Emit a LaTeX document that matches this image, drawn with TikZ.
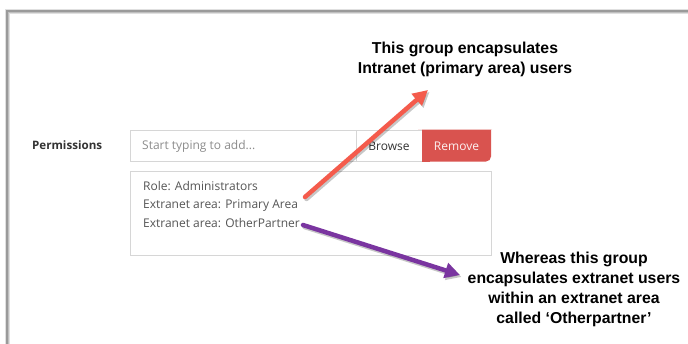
\documentclass[tikz,border=0pt]{standalone}
\usepackage{fontspec}
\setmainfont{Open Sans}
\newfontfamily\annotfont{Liberation Sans}
\usetikzlibrary{arrows.meta}
\definecolor{framegray}{HTML}{9A9A9A}
\definecolor{boxgray}{HTML}{D6D6D6}
\definecolor{uitext}{HTML}{555555}
\definecolor{labeltext}{HTML}{333333}
\definecolor{removered}{HTML}{D9534F}
\definecolor{arrowred}{HTML}{F45B4C}
\definecolor{arrowpurple}{HTML}{7A35A0}
\tikzset{
  uibox/.style={draw=boxgray, line width=0.9pt, inner sep=0pt},
  uitxt/.style={text=uitext, font=\fontsize{12}{14}\selectfont, inner sep=0pt, anchor=base west},
  annot/.style={font=\annotfont\bfseries\fontsize{15.8}{20}\selectfont, align=center, inner sep=0pt, text=black},
  callout/.style={line width=4.5pt, line cap=round, -{Triangle[length=15pt,width=15pt]}},
  calloutshadow/.style={line width=4.5pt, line cap=round, draw=black, opacity=0.22, -{Triangle[length=15pt,width=15pt]}},
}
\begin{document}
\begin{tikzpicture}[x=1pt,y=-1pt]
\useasboundingbox (0,0) rectangle (688,343);
\clip (0,0) rectangle (688,343);
\fill[white] (0,0) rectangle (688,343);
% frame with soft shadow
\draw[black!12, line width=5pt] (7,360) -- (7,11) -- (700,11);
\draw[black!25, line width=3pt] (7,360) -- (7,11) -- (700,11);
\draw[framegray, line width=1.5pt] (7,360) -- (7,11) -- (700,11);
% label
\node[text=labeltext, font=\fontsize{11.6}{13}\selectfont\bfseries, inner sep=0pt, anchor=base west] (perm) at (32,149.5) {Permissions};
% input row
\draw[uibox, fill=white] (130,130) rectangle (356,161);
\node[uitxt, text=black!45] (ph) at (142,149.5) {Start typing to add...};
\draw[uibox, fill=white] (356,130) rectangle (422,161);
\node[uitxt, text=labeltext, anchor=base] (browse) at (389,150) {Browse};
\fill[removered, rounded corners=5pt] (418,129.5) -- (487,129.5) [sharp corners] -- (491,129.5) [rounded corners=5pt] -- (491,161.5) -- (422,161.5) [sharp corners] -- (422,129.5) -- cycle;
\fill[removered] (422,129.5) rectangle (430,161.5);
\node[uitxt, text=white!92!removered, anchor=base] (remove) at (456.5,150) {Remove};
% textarea
\draw[uibox, fill=white] (130,171) rectangle (491,255);
\node[uitxt] (l1) at (143,190) {Role: Administrators};
\node[uitxt] (l2) at (143,208.5) {Extranet area: Primary Area};
\node[uitxt] (l3) at (143,227) {Extranet area: OtherPartner};
% annotations
\node[annot] (a1) at (465,59) {This group encapsulates\\Intranet (primary area) users};
\node[annot] (a2) at (574,289) {Whereas this group\\encapsulates extranet users\\within an extranet area\\called ‘Otherpartner’};
% arrows
\coordinate (r0) at (305,197);
\coordinate (r1) at (428,90);
\coordinate (p0) at (303,225);
\coordinate (p1) at (460,275);
\draw[calloutshadow, transform canvas={shift={(1.5pt,-2pt)}}] (r0) -- (r1);
\draw[calloutshadow, transform canvas={shift={(1.5pt,-2pt)}}] (p0) -- (p1);
\draw[callout, draw=arrowred, fill=arrowred] (r0) -- (r1);
\draw[callout, draw=arrowpurple, fill=arrowpurple] (p0) -- (p1);
\end{tikzpicture}
\end{document}
